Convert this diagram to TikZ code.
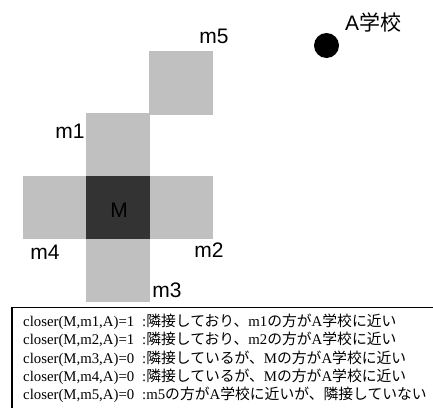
\documentclass[tikz,border=0pt]{standalone}
\usepackage{fontspec}
\setmainfont{Liberation Serif}
\setsansfont{Liberation Sans}
\newfontfamily\jpfont{Noto Sans CJK JP}
\newcommand{\jp}[1]{{\jpfont #1}}
\definecolor{cellgray}{HTML}{C0C0C0}
\definecolor{celldark}{HTML}{333333}
\begin{document}
\begin{tikzpicture}[x=1pt,y=-1pt,
  cell/.style={minimum size=63.4pt,inner sep=0pt,outer sep=0pt,fill=cellgray},
  center/.style={cell,fill=celldark},
  lab/.style={inner sep=0pt,anchor=base,font=\sffamily\fontsize{21}{24}\selectfont},
  row/.style={inner sep=0pt,anchor=base west,font=\fontsize{14.8}{17}\selectfont}]
\useasboundingbox (0,0) rectangle (433,407);
\clip (0,0) rectangle (433,407);
% cells
\node[cell] (m5c) at (181,83) {};
\node[cell] (m1c) at (117.8,144.6) {};
\node[cell] (m3c) at (117.8,270.5) {};
\node[cell] (m4c) at (54.6,207.5) {};
\node[cell] (m2c) at (181,207.5) {};
\node[center] (Mc) at (117.8,207.5) {};
% labels
\node[lab] (Ml) at (119,217) {M};
\node[lab] (m5l) at (214,43) {m5};
\node[lab] (m1l) at (70,138) {m1};
\node[lab] (m4l) at (45,259) {m4};
\node[lab] (m2l) at (209,257) {m2};
\node[lab] (m3l) at (167,297) {m3};
% school
\node[circle,fill=black,minimum size=25pt,inner sep=0pt] (A) at (326.5,45.5) {};
\node[lab] (Al) at (373,30) {A\jp{学校}};
% table
\draw[line width=1.5pt] (12,307.5) rectangle (445,420);
\node[row] (c1) at (23,326) {closer(M,m1,A)=1};
\node[row] (c2) at (23,344.5) {closer(M,m2,A)=1};
\node[row] (c3) at (23,363) {closer(M,m3,A)=0};
\node[row] (c4) at (23,381.3) {closer(M,m4,A)=0};
\node[row] (c5) at (23,399.6) {closer(M,m5,A)=0};
\node[row] (d1) at (142,326) {:\jp{隣接しており、}m1\jp{の方が}A\jp{学校に近い}};
\node[row] (d2) at (142,344.5) {:\jp{隣接しており、}m2\jp{の方が}A\jp{学校に近い}};
\node[row] (d3) at (142,363) {:\jp{隣接しているが、}M\jp{の方が}A\jp{学校に近い}};
\node[row] (d4) at (142,381.3) {:\jp{隣接しているが、}M\jp{の方が}A\jp{学校に近い}};
\node[row] (d5) at (142,399.6) {:m5\jp{の方が}A\jp{学校に近いが、隣接していない}};
\end{tikzpicture}
\end{document}
